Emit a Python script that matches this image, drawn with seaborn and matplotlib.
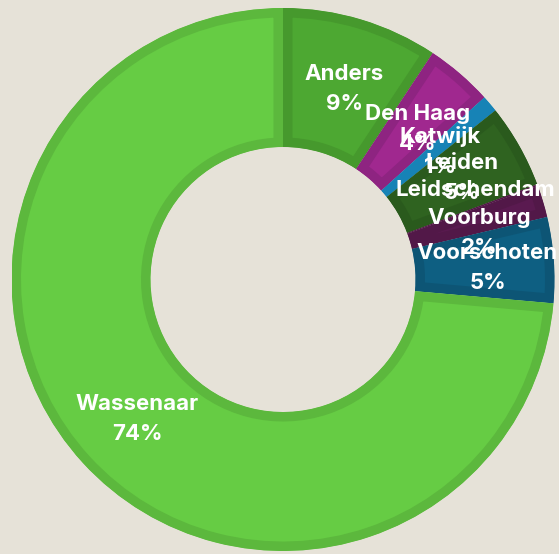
import numpy as np
import matplotlib
matplotlib.use("Agg")
import matplotlib.pyplot as plt
import seaborn as sns

# Data
categories = ["Anders", "Den Haag", "Katwijk", "Leiden", "Leidschendam",
              "Voorburg", "Voorschoten", "Wassenaar"]
values = [9.3, 4.0, 1.0, 5.0, 0.1, 1.9, 5.1, 73.6]
pct_labels = ["9%", "4%", "1%", "5%", "", "2%", "5%", "74%"]

fill_colors = ["#4DA832", "#A0288F", "#1A8FC7", "#2F6320", "#5A1A50",
               "#5A1A50", "#0E5F82", "#66CC44"]
edge_colors = ["#46992D", "#8E2481", "#1783B6", "#2A5A1D", "#521848",
               "#521848", "#0D5575", "#5CB83D"]
# vertical nudges of label blocks (pixels, + = down)
label_nudge_px = [0, 0, 0, -5, -7, 9, 0, 0]

BG = "#E6E2D8"

sns.set_theme(style="white")
plt.rcParams['font.family'] = ['Inter', 'DejaVu Sans']

W, H = 559, 554
fig = plt.figure(figsize=(W / 100, H / 100), dpi=100, facecolor=BG)
R_px = 271.5
cx, cy = 283, 279.5
ax = fig.add_axes([(cx - R_px) / W, (H - cy - R_px) / H,
                   2 * R_px / W, 2 * R_px / H])
ax.set_facecolor(BG)

inner = 132.5 / R_px
width = 1 - inner
border_px = 9.5
wedges, _ = ax.pie(values, startangle=90, counterclock=False,
                   colors=fill_colors, radius=1.0,
                   wedgeprops=dict(width=width, linewidth=2 * border_px * 0.72))
for w, ec in zip(wedges, edge_colors):
    w.set_edgecolor(ec)
    w.set_clip_on(True)
    w.set_clip_path(w)

mid_r = (1 + inner) / 2
half_gap = 15 * 0.72  # points
shift_x, shift_y = 3, 3  # pixels (right, down)
for w, cat, pl, nud in zip(wedges, categories, pct_labels, label_nudge_px):
    ang = np.deg2rad((w.theta1 + w.theta2) / 2)
    x, y = mid_r * np.cos(ang), mid_r * np.sin(ang)
    dx = shift_x * 0.72
    dy = -(nud + shift_y) * 0.72
    ax.annotate(cat, (x, y), xytext=(dx, dy + half_gap), textcoords="offset points",
                ha="center", va="center", color="white",
                fontsize=16, fontweight="bold")
    if pl:
        ax.annotate(pl, (x, y), xytext=(dx, dy - half_gap), textcoords="offset points",
                    ha="center", va="center", color="white",
                    fontsize=16, fontweight="bold")

ax.set_xlim(-1, 1)
ax.set_ylim(-1, 1)
ax.set_aspect("equal")
ax.axis("off")

fig.savefig("out.png", dpi=100, facecolor=BG)
